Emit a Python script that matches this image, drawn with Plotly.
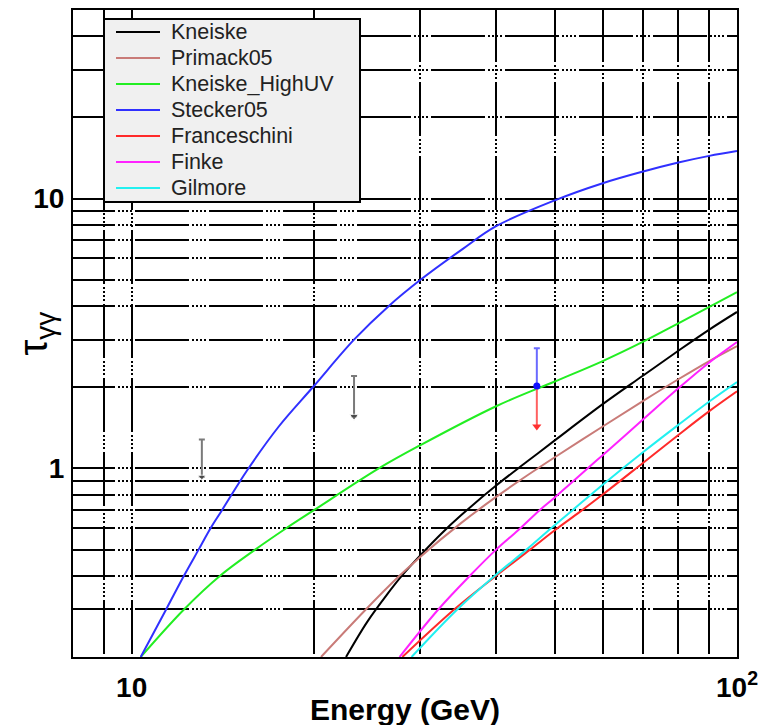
import plotly.graph_objects as go

# ---- optical depth tau_gg(E) for each EBL model (E in GeV) ----
kneiske_E = [22.6, 24.5, 26.5, 28, 30, 32.5, 35, 40, 45, 50, 60, 70, 80, 90, 100]
kneiske_tau = [0.2, 0.27, 0.344, 0.402, 0.477, 0.574, 0.67, 0.864, 1.06, 1.27,
               1.73, 2.21, 2.73, 3.27, 3.8]

primack_E = [20.55, 24.3, 27.5, 30, 35, 40, 45, 50, 60, 70, 80, 90, 100]
primack_tau = [0.2, 0.298, 0.394, 0.471, 0.627, 0.784, 0.941, 1.10, 1.43,
               1.78, 2.14, 2.5, 2.84]

highuv_E = [10.35, 12.2, 14.0, 16.0, 18.0, 20, 25.6, 30, 40, 50, 60, 70, 80, 90, 100]
highuv_tau = [0.2, 0.3, 0.4, 0.5, 0.6, 0.7, 1.0, 1.22, 1.70, 2.1, 2.5, 2.95,
              3.45, 3.97, 4.5]

stecker_E = [10.35, 11.4, 12.2, 12.9, 13.5, 14.1, 15.5, 17.5, 20, 23.3, 26.6,
             30, 35.2, 40, 50, 60, 70, 80, 90, 100]
stecker_tau = [0.2, 0.3, 0.4, 0.5, 0.6, 0.7, 0.98, 1.43, 2.02, 3.0, 4.0,
               5.0, 6.5, 7.9, 9.85, 11.4, 12.6, 13.6, 14.4, 15.0]

franceschini_E = [28.0, 34.1, 40, 45.5, 50, 55, 60, 70, 80, 90, 100]
franceschini_tau = [0.2, 0.3, 0.4, 0.5, 0.59, 0.69, 0.8, 1.05, 1.33, 1.63, 1.93]

finke_E = [27.7, 32.1, 36.2, 40, 43.5, 47.2, 50, 53.1, 60, 70, 80, 90, 100]
finke_tau = [0.2, 0.3, 0.4, 0.5, 0.59, 0.7, 0.78, 0.88, 1.12, 1.52, 1.98,
             2.47, 2.94]

gilmore_E = [29.0, 34.5, 39.8, 44.9, 49.3, 53.5, 60, 70, 80, 90, 100]
gilmore_tau = [0.2, 0.3, 0.4, 0.5, 0.6, 0.7, 0.87, 1.15, 1.45, 1.77, 2.09]

model_names = ["Kneiske", "Primack05", "Kneiske_HighUV", "Stecker05",
               "Franceschini", "Finke", "Gilmore"]
model_colors = ["#000000", "#c97b78", "#22ee22", "#3030ff",
                "#ff2a2a", "#ff22ff", "#22f0f0"]
model_E = [kneiske_E, primack_E, highuv_E, stecker_E,
           franceschini_E, finke_E, gilmore_E]
model_tau = [kneiske_tau, primack_tau, highuv_tau, stecker_tau,
             franceschini_tau, finke_tau, gilmore_tau]

# ---- measured limits: value with upper bar, arrow pointing down ----
gray_E = [13.06, 23.3]
gray_tau_low = [0.93, 1.56]
gray_tau_high = [1.28, 2.2]

point_E = [46.7]
point_tau = [2.02]
point_tau_high = [2.79]
point_tau_low = [1.43]

# ---- axis grid / tick labels ----
x_grid = [8, 9, 10, 20, 30, 40, 50, 60, 70, 80, 90, 100]
x_text = ["", "", "10", "", "", "", "", "", "", "", "", "10<sup>2</sup>"]
y_grid = [0.2, 0.3, 0.4, 0.5, 0.6, 0.7, 0.8, 0.9, 1, 2, 3, 4, 5, 6, 7, 8, 9,
          10, 20, 30, 40, 50]
y_text = ["1" if v == 1 else "10" if v == 10 else "" for v in y_grid]

W, H = 760, 725
M_L, M_R, M_T, M_B = 73, 23, 10, 68
PW, PH = W - M_L - M_R, H - M_T - M_B
FONT = "Liberation Sans, Arial, Helvetica, sans-serif"


def fx(px):
    return (px - M_L) / PW


def fy(py):
    return (M_T + PH - py) / PH


fig = go.Figure()

for name, col, xs, ys in zip(model_names, model_colors, model_E, model_tau):
    fig.add_trace(go.Scatter(x=xs, y=ys, mode="lines", name=name,
                             line=dict(color=col, width=2, shape="spline",
                                       smoothing=1.0),
                             showlegend=False))

fig.add_trace(go.Scatter(
    x=gray_E, y=gray_tau_low, mode="markers", showlegend=False,
    marker=dict(symbol="triangle-down", size=[7, 8], color="#333333"),
    error_y=dict(type="data", symmetric=False,
                 array=[h - l for h, l in zip(gray_tau_high, gray_tau_low)],
                 arrayminus=[0, 0], color="#7a7a7a", thickness=2, width=3)))

fig.add_trace(go.Scatter(
    x=point_E, y=point_tau_low, mode="markers", showlegend=False,
    marker=dict(symbol="triangle-down", size=8, color="#ff3030"),
    error_y=dict(type="data", symmetric=False,
                 array=[t - l for t, l in zip(point_tau, point_tau_low)],
                 arrayminus=[0], color="#ff6060", thickness=2, width=0)))

fig.add_trace(go.Scatter(
    x=point_E, y=point_tau, mode="markers", showlegend=False,
    marker=dict(symbol="circle", size=7, color="#1010ff"),
    error_y=dict(type="data", symmetric=False,
                 array=[h - t for h, t in zip(point_tau_high, point_tau)],
                 arrayminus=[0], color="#6a6aff", thickness=2, width=3)))

# ROOT-like dash-dot grid
h_dash = "42px,3px,2px,2px,2px,2px,2px,2px,2px,3px,12px,0px"
v_dash = "52px,3px,2px,2px,2px,2px,2px,2px,2px,3px,2px,0px"

fig.update_xaxes(type="log", range=[0.90309, 2.0], tickmode="array",
                 tickvals=x_grid, ticktext=x_text, showgrid=True,
                 gridcolor="black", gridwidth=1.8, griddash=v_dash,
                 showline=True, mirror=True, linecolor="black", linewidth=2,
                 ticks="", zeroline=False, automargin=False,
                 ticklabelstandoff=4,
                 tickfont=dict(family=FONT, size=28, color="black",
                               weight="bold"))
fig.update_yaxes(type="log", range=[-0.69897, 1.69897], tickmode="array",
                 tickvals=y_grid, ticktext=y_text, showgrid=True,
                 gridcolor="black", gridwidth=1.8, griddash=h_dash,
                 showline=True, mirror=True, linecolor="black", linewidth=2,
                 ticks="", zeroline=False, automargin=False,
                 ticklabelstandoff=1,
                 tickfont=dict(family=FONT, size=28, color="black",
                               weight="bold"))

# legend box
shapes = [dict(type="rect", xref="paper", yref="paper",
               x0=fx(104), x1=fx(360), y0=fy(202), y1=fy(19),
               fillcolor="#f0f0f0", line=dict(color="black", width=2),
               layer="above")]
annotations = []
row0, row_step = 32, 26
for i, (name, col) in enumerate(zip(model_names, model_colors)):
    yy = fy(row0 + i * row_step)
    shapes.append(dict(type="line", xref="paper", yref="paper",
                       x0=fx(116), x1=fx(160), y0=yy, y1=yy,
                       line=dict(color=col, width=2), layer="above"))
    annotations.append(dict(xref="paper", yref="paper", x=fx(169), y=yy,
                            xanchor="left", yanchor="middle", text=name,
                            showarrow=False,
                            font=dict(family=FONT, size=21.5, color="#222")))

# axis titles
annotations.append(dict(xref="paper", yref="paper", x=0.5, y=0,
                        yshift=-52, xanchor="center", yanchor="middle",
                        text="Energy (GeV)", showarrow=False,
                        font=dict(family=FONT, size=30, color="black",
                                  weight="bold")))
annotations.append(dict(xref="paper", yref="paper", x=0, y=0.5,
                        xshift=-38, xanchor="center", yanchor="middle",
                        text="τ<sub>γγ</sub>", textangle=-90, showarrow=False,
                        font=dict(family=FONT, size=40, color="black")))

fig.update_layout(width=W, height=H, template="none",
                  margin=dict(l=M_L, r=M_R, t=M_T, b=M_B, pad=0),
                  paper_bgcolor="white", plot_bgcolor="white",
                  showlegend=False, shapes=shapes, annotations=annotations)

fig.write_html("out.html")
